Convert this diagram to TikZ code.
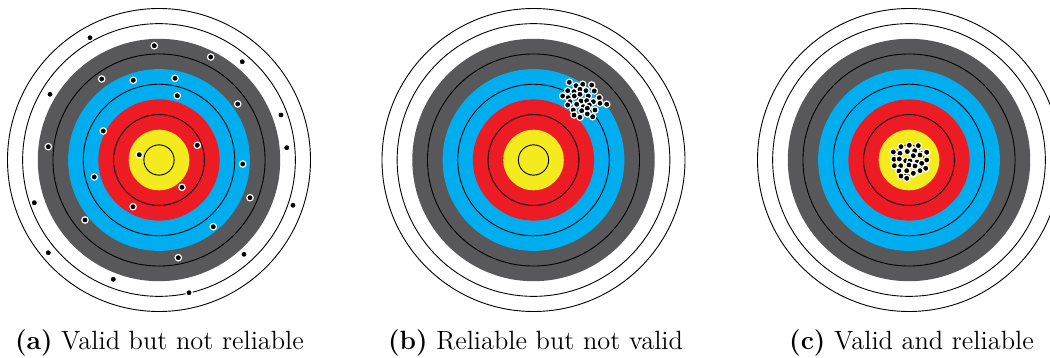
\documentclass[tikz,border=0pt]{standalone}
\definecolor{tgrey}{HTML}{58585A}
\definecolor{tblue}{HTML}{00AEEF}
\definecolor{tred}{HTML}{ED1C24}
\definecolor{tyellow}{HTML}{F4EB1F}
\tikzset{
  ringline/.style={draw=black,line width=0.45pt},
  shot/.style={fill=black,draw=white,line width=0.6pt},
  captext/.style={anchor=base,inner sep=0pt,font=\fontsize{13.2}{16}\selectfont},
}
\newcommand\archtarget[1]{%
  \begin{scope}[shift={#1}]
    \fill[white] (0,0) circle[radius=75.75pt];
    \draw[ringline] (0,0) circle[radius=75.75pt];
    \draw[ringline] (0,0) circle[radius=68.175pt];
    \fill[tgrey] (0,0) circle[radius=60.6pt];
    \fill[tblue] (0,0) circle[radius=45.45pt];
    \fill[tred] (0,0) circle[radius=30.3pt];
    \fill[tyellow] (0,0) circle[radius=15.15pt];
    \draw[ringline] (0,0) circle[radius=53.025pt];
    \draw[ringline] (0,0) circle[radius=37.875pt];
    \draw[ringline] (0,0) circle[radius=22.725pt];
    \draw[ringline] (0,0) circle[radius=7.575pt];
  \end{scope}}
\begin{document}
\begin{tikzpicture}[x=0.5pt,y=-0.5pt]
\useasboundingbox (0,0) rectangle (1050,358);
\clip (0,0) rectangle (1050,358);
\archtarget{(159,160)}
\archtarget{(533.5,160)}
\archtarget{(909,160)}
% (a) scattered shots
\foreach \p in {(90,37.7),(242.3,61.7),(50,94.3),(281,115),(286.7,147.7),(34.3,202.7),(293,205.3),(48.3,252.7),(244,254.3),(113.3,279.3),(189,292.7),
 (154.3,45.7),(210.7,57),(101.7,79),(133.3,80.3),(175,78.3),(177.3,95.7),(237.7,104),(103.3,131),(48.3,146.7),(197.3,145.3),(139.3,154.7),(242.7,164),(94.3,177),(182,187.3),(250,197.7),(133,206.7),(85,220),(213.3,226.7),(178.3,257.7)}
  \filldraw[shot] \p circle[radius=1.6pt];
% (b) cluster off-centre
\foreach \p in {(569.3,82.3),(576,85.7),(582.7,84.3),(591.7,85),(567.7,90.7),(574,91.7),(580,89.3),(586,90.7),(594.3,91),(562.7,96),(568.3,97.7),(574.3,96),(580,94.3),(588.3,96),(599.3,97.7),(570,101.7),(581,101),(586.7,100.7),(593.3,101.7),(567.7,105),(576.7,104.3),(583.3,106.7),(589.3,105),(600,103.3),(606.7,104.3),(573.3,110),(581.7,110.7),(587.3,108.3),(595,110),(574,115),(580,117.3),(587.3,114),(592.7,116.7)}
  \filldraw[shot] \p circle[radius=1.6pt];
% (c) cluster centre
\foreach \p in {(901,146.7),(909.3,145.3),(918.3,145.7),(893.3,152),(900,153.3),(907.3,151.5),(914.7,150.7),(920.7,153.3),(926.7,152.3),(894,159.3),(899.3,159),(905.7,160.7),(913.3,155.7),(920,155),(926.7,160),(910,161),(917,162),(894.3,165.7),(900.7,165.7),(909,165),(915,166),(921.7,163.3),(899,171),(906.7,170.7),(913.3,174),(920,170.7),(925.7,168.3),(901,176),(906.7,178.3),(913.3,173.3)}
  \filldraw[shot] \p circle[radius=1.6pt];
\node[captext] (capa) at (159.5,349) {\textbf{(a)} Valid but not reliable};
\node[captext] (capb) at (535.5,349) {\textbf{(b)} Reliable but not valid};
\node[captext] (capc) at (911.5,349) {\textbf{(c)} Valid and reliable};
\end{tikzpicture}
\end{document}
